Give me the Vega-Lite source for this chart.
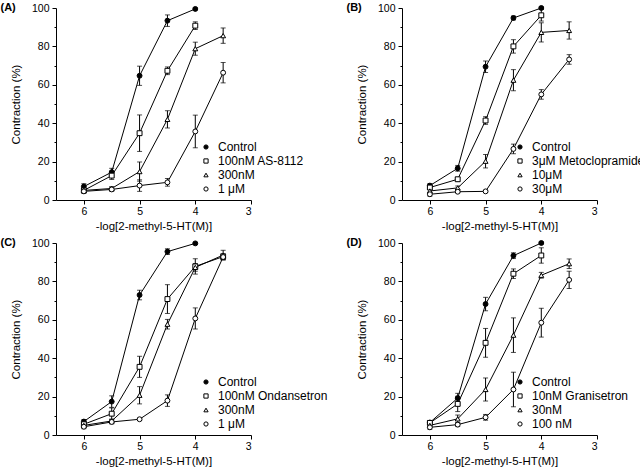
{
  "$schema": "https://vega.github.io/schema/vega-lite/v6.json",
  "background": "white",
  "padding": {"left": 0, "top": 2, "right": 0, "bottom": 0},
  "config": {
    "view": {"stroke": null},
    "font": "Liberation Sans",
    "axis": {"grid": false, "domainColor": "black", "tickColor": "black", "labelColor": "black", "titleColor": "black", "labelFont": "Liberation Sans", "titleFont": "Liberation Sans", "labelFontSize": 10.5, "titleFontSize": 11.5, "titleFontWeight": "normal", "tickSize": 4, "labelPadding": 3, "domainWidth": 1, "tickWidth": 1},
    "axisX": {"titlePadding": 4, "labelPadding": 2},
    "axisY": {"titlePadding": 10},
    "legend": {"labelFont": "Liberation Sans", "labelFontSize": 12, "labelColor": "black", "symbolSize": 18, "symbolStrokeWidth": 1, "rowPadding": 2, "labelOffset": 6},
    "title": {"font": "Liberation Sans", "fontSize": 11, "fontWeight": "bold", "color": "black", "anchor": "start", "frame": "bounds"}
  },
  "datasets": {
    "d": [
      {"p": "A", "s": "Control", "x": 6, "y": 7, "lo": 5.5, "hi": 8.5},
      {"p": "A", "s": "Control", "x": 5.5, "y": 14.5, "lo": 12.5, "hi": 16.5},
      {"p": "A", "s": "Control", "x": 5, "y": 64.7, "lo": 59.7, "hi": 69.7},
      {"p": "A", "s": "Control", "x": 4.5, "y": 93.4, "lo": 90.4, "hi": 96.4},
      {"p": "A", "s": "Control", "x": 4, "y": 99.5, "lo": 99, "hi": 100},
      {"p": "A", "s": "100nM AS-8112", "x": 6, "y": 5, "lo": 4, "hi": 6},
      {"p": "A", "s": "100nM AS-8112", "x": 5.5, "y": 12.7, "lo": 10.7, "hi": 14.7},
      {"p": "A", "s": "100nM AS-8112", "x": 5, "y": 34.8, "lo": 25.3, "hi": 44.3},
      {"p": "A", "s": "100nM AS-8112", "x": 4.5, "y": 67.3, "lo": 65.3, "hi": 69.3},
      {"p": "A", "s": "100nM AS-8112", "x": 4, "y": 90.8, "lo": 88.8, "hi": 92.8},
      {"p": "A", "s": "300nM", "x": 6, "y": 5, "lo": 4, "hi": 6},
      {"p": "A", "s": "300nM", "x": 5.5, "y": 6, "lo": 5, "hi": 7},
      {"p": "A", "s": "300nM", "x": 5, "y": 14.8, "lo": 9.8, "hi": 19.8},
      {"p": "A", "s": "300nM", "x": 4.5, "y": 42, "lo": 37.5, "hi": 46.5},
      {"p": "A", "s": "300nM", "x": 4, "y": 78.8, "lo": 75.4, "hi": 82.2},
      {"p": "A", "s": "300nM", "x": 3.5, "y": 85.6, "lo": 81.6, "hi": 89.6},
      {"p": "A", "s": "1 μM", "x": 6, "y": 4.5, "lo": 3.5, "hi": 5.5},
      {"p": "A", "s": "1 μM", "x": 5.5, "y": 5.5, "lo": 4.5, "hi": 6.5},
      {"p": "A", "s": "1 μM", "x": 5, "y": 7.5, "lo": 4.5, "hi": 10.5},
      {"p": "A", "s": "1 μM", "x": 4.5, "y": 9.2, "lo": 7.2, "hi": 11.2},
      {"p": "A", "s": "1 μM", "x": 4, "y": 35.7, "lo": 27.2, "hi": 44.2},
      {"p": "A", "s": "1 μM", "x": 3.5, "y": 66.3, "lo": 61, "hi": 71.6},

      {"p": "B", "s": "Control", "x": 6, "y": 7.5, "lo": 6.5, "hi": 8.5},
      {"p": "B", "s": "Control", "x": 5.5, "y": 16.5, "lo": 15, "hi": 18},
      {"p": "B", "s": "Control", "x": 5, "y": 69.4, "lo": 66.4, "hi": 72.4},
      {"p": "B", "s": "Control", "x": 4.5, "y": 94.8, "lo": 93.8, "hi": 95.8},
      {"p": "B", "s": "Control", "x": 4, "y": 100, "lo": 99.5, "hi": 100.5},
      {"p": "B", "s": "3μM Metoclopramide", "x": 6, "y": 6.5, "lo": 5.5, "hi": 7.5},
      {"p": "B", "s": "3μM Metoclopramide", "x": 5.5, "y": 10.8, "lo": 9.8, "hi": 11.8},
      {"p": "B", "s": "3μM Metoclopramide", "x": 5, "y": 41.4, "lo": 39.4, "hi": 43.4},
      {"p": "B", "s": "3μM Metoclopramide", "x": 4.5, "y": 80, "lo": 76.5, "hi": 83.5},
      {"p": "B", "s": "3μM Metoclopramide", "x": 4, "y": 96.2, "lo": 93.2, "hi": 99.2},
      {"p": "B", "s": "10μM", "x": 6, "y": 4.7, "lo": 3.7, "hi": 5.7},
      {"p": "B", "s": "10μM", "x": 5.5, "y": 6.3, "lo": 5.3, "hi": 7.3},
      {"p": "B", "s": "10μM", "x": 5, "y": 20.2, "lo": 16.7, "hi": 23.7},
      {"p": "B", "s": "10μM", "x": 4.5, "y": 62.4, "lo": 56.9, "hi": 67.9},
      {"p": "B", "s": "10μM", "x": 4, "y": 87.3, "lo": 82.3, "hi": 92.3},
      {"p": "B", "s": "10μM", "x": 3.5, "y": 88.3, "lo": 83.8, "hi": 92.8},
      {"p": "B", "s": "30μM", "x": 6, "y": 3, "lo": 2, "hi": 4},
      {"p": "B", "s": "30μM", "x": 5.5, "y": 4.3, "lo": 3.8, "hi": 4.8},
      {"p": "B", "s": "30μM", "x": 5, "y": 4.5, "lo": 4, "hi": 5},
      {"p": "B", "s": "30μM", "x": 4.5, "y": 26.6, "lo": 24.1, "hi": 29.1},
      {"p": "B", "s": "30μM", "x": 4, "y": 55, "lo": 52.5, "hi": 57.5},
      {"p": "B", "s": "30μM", "x": 3.5, "y": 73.2, "lo": 70.7, "hi": 75.7},

      {"p": "C", "s": "Control", "x": 6, "y": 7, "lo": 6, "hi": 8},
      {"p": "C", "s": "Control", "x": 5.5, "y": 17.4, "lo": 14.4, "hi": 20.4},
      {"p": "C", "s": "Control", "x": 5, "y": 72.9, "lo": 70.4, "hi": 75.4},
      {"p": "C", "s": "Control", "x": 4.5, "y": 95.5, "lo": 94, "hi": 97},
      {"p": "C", "s": "Control", "x": 4, "y": 99.8, "lo": 99.3, "hi": 100.3},
      {"p": "C", "s": "100nM Ondansetron", "x": 6, "y": 5.6, "lo": 4.6, "hi": 6.6},
      {"p": "C", "s": "100nM Ondansetron", "x": 5.5, "y": 11.1, "lo": 8.1, "hi": 14.1},
      {"p": "C", "s": "100nM Ondansetron", "x": 5, "y": 35.5, "lo": 30, "hi": 41},
      {"p": "C", "s": "100nM Ondansetron", "x": 4.5, "y": 70.8, "lo": 63.3, "hi": 78.3},
      {"p": "C", "s": "100nM Ondansetron", "x": 4, "y": 87.8, "lo": 83.8, "hi": 91.8},
      {"p": "C", "s": "100nM Ondansetron", "x": 3.5, "y": 92.9, "lo": 91.4, "hi": 94.4},
      {"p": "C", "s": "300nM", "x": 6, "y": 5, "lo": 4, "hi": 6},
      {"p": "C", "s": "300nM", "x": 5.5, "y": 7.3, "lo": 6.3, "hi": 8.3},
      {"p": "C", "s": "300nM", "x": 5, "y": 20.7, "lo": 16.2, "hi": 25.2},
      {"p": "C", "s": "300nM", "x": 4.5, "y": 57.7, "lo": 55.2, "hi": 60.2},
      {"p": "C", "s": "300nM", "x": 4, "y": 87.3, "lo": 85.3, "hi": 89.3},
      {"p": "C", "s": "300nM", "x": 3.5, "y": 93.7, "lo": 91.2, "hi": 96.2},
      {"p": "C", "s": "1 μM", "x": 6, "y": 4.3, "lo": 3.3, "hi": 5.3},
      {"p": "C", "s": "1 μM", "x": 5.5, "y": 6.8, "lo": 5.8, "hi": 7.8},
      {"p": "C", "s": "1 μM", "x": 5, "y": 8.2, "lo": 7.7, "hi": 8.7},
      {"p": "C", "s": "1 μM", "x": 4.5, "y": 17.9, "lo": 14.9, "hi": 20.9},
      {"p": "C", "s": "1 μM", "x": 4, "y": 60.7, "lo": 55.2, "hi": 66.2},
      {"p": "C", "s": "1 μM", "x": 3.5, "y": 92.7, "lo": 91.2, "hi": 94.2},

      {"p": "D", "s": "Control", "x": 6, "y": 6.5, "lo": 5.5, "hi": 7.5},
      {"p": "D", "s": "Control", "x": 5.5, "y": 19.2, "lo": 16.7, "hi": 21.7},
      {"p": "D", "s": "Control", "x": 5, "y": 68.2, "lo": 64.7, "hi": 71.7},
      {"p": "D", "s": "Control", "x": 4.5, "y": 93.4, "lo": 91.9, "hi": 94.9},
      {"p": "D", "s": "Control", "x": 4, "y": 100, "lo": 99.5, "hi": 100.5},
      {"p": "D", "s": "10nM Granisetron", "x": 6, "y": 6.3, "lo": 5.3, "hi": 7.3},
      {"p": "D", "s": "10nM Granisetron", "x": 5.5, "y": 16.2, "lo": 12.2, "hi": 20.2},
      {"p": "D", "s": "10nM Granisetron", "x": 5, "y": 48, "lo": 40.5, "hi": 55.5},
      {"p": "D", "s": "10nM Granisetron", "x": 4.5, "y": 84, "lo": 81.5, "hi": 86.5},
      {"p": "D", "s": "10nM Granisetron", "x": 4, "y": 93.5, "lo": 89.5, "hi": 97.5},
      {"p": "D", "s": "30nM", "x": 6, "y": 5, "lo": 4, "hi": 6},
      {"p": "D", "s": "30nM", "x": 5.5, "y": 8.4, "lo": 6.4, "hi": 10.4},
      {"p": "D", "s": "30nM", "x": 5, "y": 23.7, "lo": 17.7, "hi": 29.7},
      {"p": "D", "s": "30nM", "x": 4.5, "y": 52, "lo": 43, "hi": 61},
      {"p": "D", "s": "30nM", "x": 4, "y": 83.2, "lo": 81.7, "hi": 84.7},
      {"p": "D", "s": "30nM", "x": 3.5, "y": 89.2, "lo": 86.7, "hi": 91.7},
      {"p": "D", "s": "100 nM", "x": 6, "y": 4, "lo": 3, "hi": 5},
      {"p": "D", "s": "100 nM", "x": 5.5, "y": 5.4, "lo": 4.4, "hi": 6.4},
      {"p": "D", "s": "100 nM", "x": 5, "y": 9.2, "lo": 7.7, "hi": 10.7},
      {"p": "D", "s": "100 nM", "x": 4.5, "y": 23.7, "lo": 14.7, "hi": 32.7},
      {"p": "D", "s": "100 nM", "x": 4, "y": 58.5, "lo": 51, "hi": 66},
      {"p": "D", "s": "100 nM", "x": 3.5, "y": 80.8, "lo": 76.3, "hi": 85.3}
    ]
  },
  "data": {"name": "d"},
  "bounds": "flush",
  "columns": 2,
  "spacing": {"row": 43, "column": 151},
  "resolve": {"scale": {"shape": "independent", "fill": "independent", "stroke": "independent"}, "legend": {"shape": "independent", "fill": "independent", "stroke": "independent"}},
  "concat": [
    {
      "width": 195, "height": 192,
      "title": {"text": "(A)", "offset": -10, "dx": -10},
      "transform": [{"filter": {"field": "p", "equal": "A"}}],
      "encoding": {"x": {"field": "x", "type": "quantitative", "scale": {"domain": [3, 6.5], "reverse": true, "nice": false, "zero": false}, "axis": {"values": [6, 5, 4, 3], "title": "-log[2-methyl-5-HT(M)]"}}},
      "resolve": {"axis": {"y": "independent"}},
      "layer": [
        {"mark": {"type": "line", "color": "black", "strokeWidth": 1}, "encoding": {"y": {"field": "y", "type": "quantitative", "scale": {"domain": [0, 100], "nice": false}, "axis": {"orient": "left", "values": [0, 20, 40, 60, 80, 100], "title": "Contraction (%)"}}, "detail": {"field": "s"}}},
        {"mark": {"type": "errorbar", "color": "black", "ticks": {"size": 5, "color": "black"}}, "encoding": {"y": {"field": "lo", "type": "quantitative", "axis": null}, "y2": {"field": "hi"}}},
        {"mark": {"type": "point", "strokeWidth": 1, "size": 24, "opacity": 1},
         "encoding": {
           "y": {"field": "y", "type": "quantitative", "axis": {"orient": "left", "values": [10, 30, 50, 70, 90], "labels": false, "domain": false, "tickSize": 2, "title": null}},
           "shape": {"field": "s", "type": "nominal", "scale": {"domain": ["Control", "100nM AS-8112", "300nM", "1 μM"], "range": ["circle", "square", "triangle-up", "circle"]}, "legend": {"orient": "none", "legendX": 144, "legendY": 133, "title": null}},
           "fill": {"field": "s", "type": "nominal", "scale": {"domain": ["Control", "100nM AS-8112", "300nM", "1 μM"], "range": ["black", "white", "white", "white"]}, "legend": {"orient": "none", "legendX": 144, "legendY": 133, "title": null}},
           "stroke": {"field": "s", "type": "nominal", "scale": {"domain": ["Control", "100nM AS-8112", "300nM", "1 μM"], "range": ["black", "black", "black", "black"]}, "legend": {"orient": "none", "legendX": 144, "legendY": 133, "title": null}}
         }}
      ]
    },
    {
      "width": 195, "height": 192,
      "title": {"text": "(B)", "offset": -10, "dx": -10},
      "transform": [{"filter": {"field": "p", "equal": "B"}}],
      "encoding": {"x": {"field": "x", "type": "quantitative", "scale": {"domain": [3, 6.5], "reverse": true, "nice": false, "zero": false}, "axis": {"values": [6, 5, 4, 3], "title": "-log[2-methyl-5-HT(M)]"}}},
      "resolve": {"axis": {"y": "independent"}},
      "layer": [
        {"mark": {"type": "line", "color": "black", "strokeWidth": 1}, "encoding": {"y": {"field": "y", "type": "quantitative", "scale": {"domain": [0, 100], "nice": false}, "axis": {"orient": "left", "values": [0, 20, 40, 60, 80, 100], "title": "Contraction (%)"}}, "detail": {"field": "s"}}},
        {"mark": {"type": "errorbar", "color": "black", "ticks": {"size": 5, "color": "black"}}, "encoding": {"y": {"field": "lo", "type": "quantitative", "axis": null}, "y2": {"field": "hi"}}},
        {"mark": {"type": "point", "strokeWidth": 1, "size": 24, "opacity": 1},
         "encoding": {
           "y": {"field": "y", "type": "quantitative", "axis": {"orient": "left", "values": [10, 30, 50, 70, 90], "labels": false, "domain": false, "tickSize": 2, "title": null}},
           "shape": {"field": "s", "type": "nominal", "scale": {"domain": ["Control", "3μM Metoclopramide", "10μM", "30μM"], "range": ["circle", "square", "triangle-up", "circle"]}, "legend": {"orient": "none", "legendX": 112, "legendY": 133, "title": null}},
           "fill": {"field": "s", "type": "nominal", "scale": {"domain": ["Control", "3μM Metoclopramide", "10μM", "30μM"], "range": ["black", "white", "white", "white"]}, "legend": {"orient": "none", "legendX": 112, "legendY": 133, "title": null}},
           "stroke": {"field": "s", "type": "nominal", "scale": {"domain": ["Control", "3μM Metoclopramide", "10μM", "30μM"], "range": ["black", "black", "black", "black"]}, "legend": {"orient": "none", "legendX": 112, "legendY": 133, "title": null}}
         }}
      ]
    },
    {
      "width": 195, "height": 192,
      "title": {"text": "(C)", "offset": -10, "dx": -10},
      "transform": [{"filter": {"field": "p", "equal": "C"}}],
      "encoding": {"x": {"field": "x", "type": "quantitative", "scale": {"domain": [3, 6.5], "reverse": true, "nice": false, "zero": false}, "axis": {"values": [6, 5, 4, 3], "title": "-log[2-methyl-5-HT(M)]"}}},
      "resolve": {"axis": {"y": "independent"}},
      "layer": [
        {"mark": {"type": "line", "color": "black", "strokeWidth": 1}, "encoding": {"y": {"field": "y", "type": "quantitative", "scale": {"domain": [0, 100], "nice": false}, "axis": {"orient": "left", "values": [0, 20, 40, 60, 80, 100], "title": "Contraction (%)"}}, "detail": {"field": "s"}}},
        {"mark": {"type": "errorbar", "color": "black", "ticks": {"size": 5, "color": "black"}}, "encoding": {"y": {"field": "lo", "type": "quantitative", "axis": null}, "y2": {"field": "hi"}}},
        {"mark": {"type": "point", "strokeWidth": 1, "size": 24, "opacity": 1},
         "encoding": {
           "y": {"field": "y", "type": "quantitative", "axis": {"orient": "left", "values": [10, 30, 50, 70, 90], "labels": false, "domain": false, "tickSize": 2, "title": null}},
           "shape": {"field": "s", "type": "nominal", "scale": {"domain": ["Control", "100nM Ondansetron", "300nM", "1 μM"], "range": ["circle", "square", "triangle-up", "circle"]}, "legend": {"orient": "none", "legendX": 144, "legendY": 133, "title": null}},
           "fill": {"field": "s", "type": "nominal", "scale": {"domain": ["Control", "100nM Ondansetron", "300nM", "1 μM"], "range": ["black", "white", "white", "white"]}, "legend": {"orient": "none", "legendX": 144, "legendY": 133, "title": null}},
           "stroke": {"field": "s", "type": "nominal", "scale": {"domain": ["Control", "100nM Ondansetron", "300nM", "1 μM"], "range": ["black", "black", "black", "black"]}, "legend": {"orient": "none", "legendX": 144, "legendY": 133, "title": null}}
         }}
      ]
    },
    {
      "width": 195, "height": 192,
      "title": {"text": "(D)", "offset": -10, "dx": -10},
      "transform": [{"filter": {"field": "p", "equal": "D"}}],
      "encoding": {"x": {"field": "x", "type": "quantitative", "scale": {"domain": [3, 6.5], "reverse": true, "nice": false, "zero": false}, "axis": {"values": [6, 5, 4, 3], "title": "-log[2-methyl-5-HT(M)]"}}},
      "resolve": {"axis": {"y": "independent"}},
      "layer": [
        {"mark": {"type": "line", "color": "black", "strokeWidth": 1}, "encoding": {"y": {"field": "y", "type": "quantitative", "scale": {"domain": [0, 100], "nice": false}, "axis": {"orient": "left", "values": [0, 20, 40, 60, 80, 100], "title": "Contraction (%)"}}, "detail": {"field": "s"}}},
        {"mark": {"type": "errorbar", "color": "black", "ticks": {"size": 5, "color": "black"}}, "encoding": {"y": {"field": "lo", "type": "quantitative", "axis": null}, "y2": {"field": "hi"}}},
        {"mark": {"type": "point", "strokeWidth": 1, "size": 24, "opacity": 1},
         "encoding": {
           "y": {"field": "y", "type": "quantitative", "axis": {"orient": "left", "values": [10, 30, 50, 70, 90], "labels": false, "domain": false, "tickSize": 2, "title": null}},
           "shape": {"field": "s", "type": "nominal", "scale": {"domain": ["Control", "10nM Granisetron", "30nM", "100 nM"], "range": ["circle", "square", "triangle-up", "circle"]}, "legend": {"orient": "none", "legendX": 112, "legendY": 133, "title": null}},
           "fill": {"field": "s", "type": "nominal", "scale": {"domain": ["Control", "10nM Granisetron", "30nM", "100 nM"], "range": ["black", "white", "white", "white"]}, "legend": {"orient": "none", "legendX": 112, "legendY": 133, "title": null}},
           "stroke": {"field": "s", "type": "nominal", "scale": {"domain": ["Control", "10nM Granisetron", "30nM", "100 nM"], "range": ["black", "black", "black", "black"]}, "legend": {"orient": "none", "legendX": 112, "legendY": 133, "title": null}}
         }}
      ]
    }
  ]
}
